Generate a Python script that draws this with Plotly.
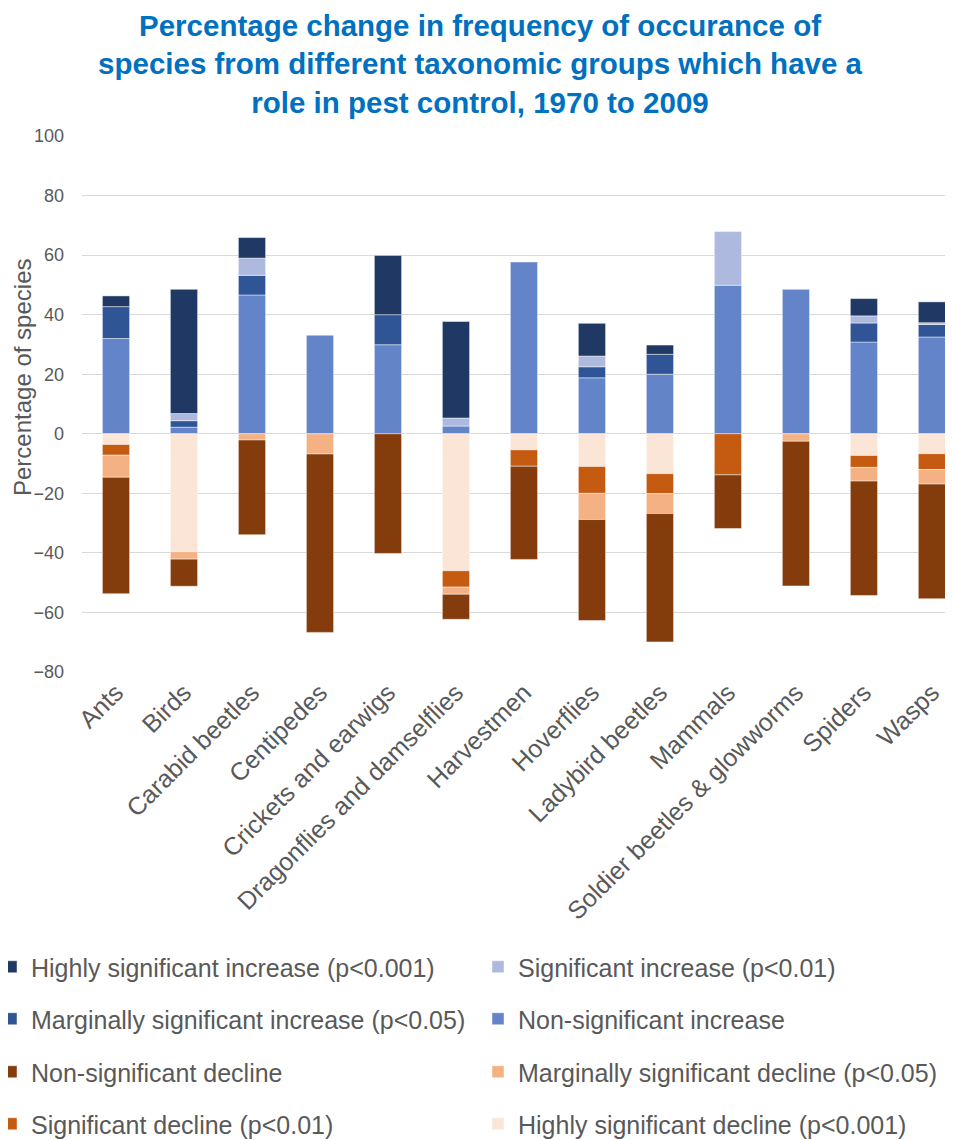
import plotly.graph_objects as go

categories = ["Ants", "Birds", "Carabid beetles", "Centipedes", "Crickets and earwigs",
              "Dragonflies and damselflies", "Harvestmen", "Hoverflies", "Ladybird beetles",
              "Mammals", "Soldier beetles & glowworms", "Spiders", "Wasps"]

# positive segments (stacked upward from zero in this order)
non_sig_increase = [32.0, 2.2, 46.6, 33.1, 29.9, 2.6, 57.7, 18.8, 20.0, 49.9, 48.5, 30.8, 32.5]
marg_sig_increase = [10.7, 2.2, 6.6, None, 10.1, None, None, 3.7, 6.7, None, None, 6.4, 4.2]
sig_increase = [None, 2.4, 5.8, None, None, 2.7, None, 3.6, None, 18.0, None, 2.4, 0.6]
high_sig_increase = [3.6, 41.7, 6.9, None, 19.9, 32.4, None, 11.0, 3.1, None, None, 5.8, 7.0]

# negative segments (stacked downward from zero in this order)
high_sig_decline = [-3.6, -39.6, None, None, None, -46.0, -5.4, -11.0, -13.4, None, None, -7.3, -6.7]
sig_decline = [-3.6, None, None, None, None, -5.5, -5.5, -9.0, -6.7, -13.8, None, -4.0, -5.3]
marg_sig_decline = [-7.4, -2.5, -2.1, -6.8, None, -2.4, None, -8.8, -6.7, None, -2.5, -4.6, -4.9]
non_sig_decline = [-39.1, -9.1, -31.8, -59.9, -40.2, -8.4, -31.3, -33.9, -43.1, -18.0, -48.6, -38.4, -38.5]

y_ticks = [-80, -60, -40, -20, 0, 20, 40, 60, 80, 100]

# The page body has an 8px margin, so the figure is sized to fit the window.
W, H = 945, 1132
ML, MT, MB = 74, 128, 468
PW, PH = W - ML, H - MT - MB

COL_X = [-17, 470]                 # legend column left edges (figure px)
ROW_Y = [959, 1011, 1064, 1116]    # legend row centres (figure px)

series = [
    # (name, values, color, legend row, legend column)
    ("Non-significant increase", non_sig_increase, "#6384C8", 1, 1),
    ("Marginally significant increase (p<0.05)", marg_sig_increase, "#2F5597", 1, 0),
    ("Significant increase (p<0.01)", sig_increase, "#ADB9DE", 0, 1),
    ("Highly significant increase (p<0.001)", high_sig_increase, "#203864", 0, 0),
    ("Highly significant decline (p<0.001)", high_sig_decline, "#FBE5D6", 3, 1),
    ("Significant decline (p<0.01)", sig_decline, "#C55A11", 3, 0),
    ("Marginally significant decline (p<0.05)", marg_sig_decline, "#F4B183", 2, 1),
    ("Non-significant decline", non_sig_decline, "#843C0C", 2, 0),
]

grey = "#595959"
font_family = "Liberation Sans, Arial, sans-serif"

fig = go.Figure()
legend_layouts = {}
for i, (name, vals, color, row, col) in enumerate(series):
    key = f"legend{i + 2}"
    fig.add_trace(go.Bar(
        x=categories, y=vals, name=name,
        marker=dict(color=color, line=dict(color="rgba(255,255,255,0.45)", width=1)),
        legend=key,
    ))
    legend_layouts[key] = dict(
        orientation="h", xref="paper", yref="paper",
        x=(COL_X[col] - ML) / PW, xanchor="left",
        y=(MT + PH - ROW_Y[row]) / PH, yanchor="middle",
        font=dict(size=25, color=grey, family=font_family),
        itemwidth=30, bgcolor="rgba(0,0,0,0)",
    )

fig.update_layout(
    width=W, height=H,
    paper_bgcolor="white", plot_bgcolor="white",
    margin=dict(l=ML, r=0, t=MT, b=MB, autoexpand=False),
    barmode="relative", bargap=0.6,
    font=dict(family=font_family, color=grey),
    title=dict(
        text="Percentage change in frequency of occurance of<br>species from different taxonomic groups which have a<br>role in pest control, 1970 to 2009",
        x=472 / W, xanchor="center", xref="container",
        y=1 - 28 / H, yanchor="top", yref="container",
        font=dict(size=29.5, color="#0070C0", family=font_family, weight="bold"),
    ),
    xaxis=dict(
        type="category", categoryorder="array", categoryarray=categories,
        range=[-0.5, 12.31], tickangle=-45, automargin=False,
        tickfont=dict(size=25, color=grey),
        showgrid=False, showline=False, ticks="",
    ),
    yaxis=dict(
        range=[-80, 100], tickvals=y_ticks, ticks="", automargin=False,
        tickfont=dict(size=18, color=grey), ticklabelstandoff=17,
        showgrid=True, gridcolor="#D9D9D9", gridwidth=1.3,
        zeroline=False, showline=False,
    ),
    annotations=[dict(
        text="Percentage of species", textangle=-90,
        xref="paper", yref="paper", x=(14 - ML) / PW, y=(MT + PH - 370) / PH,
        xanchor="center", yanchor="middle", showarrow=False,
        font=dict(size=24, color=grey),
    )],
    **legend_layouts,
)

fig.write_html("out.html")
